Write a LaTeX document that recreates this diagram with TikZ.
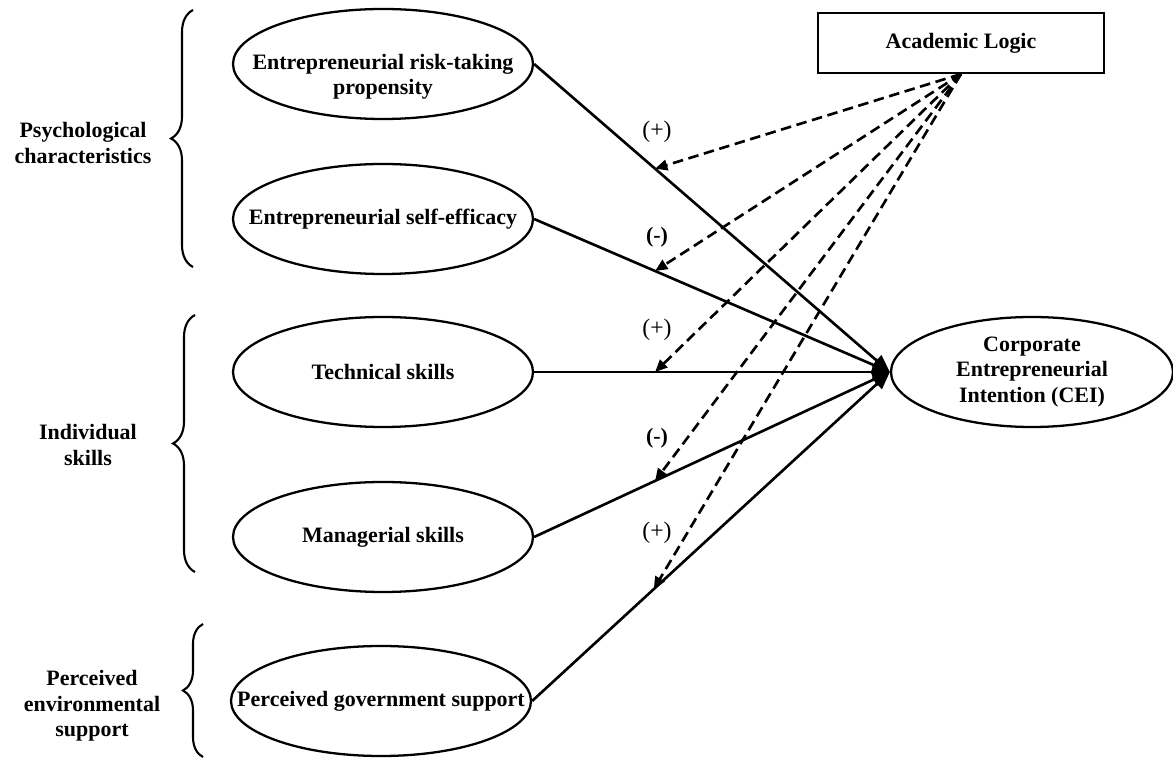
\documentclass[tikz,border=0pt]{standalone}
\usepackage{fontspec}
\setmainfont{Liberation Serif}
\usetikzlibrary{arrows.meta,shapes.geometric,decorations.pathreplacing}
\begin{document}
\begin{tikzpicture}[
  font=\fontsize{12.5}{14.5}\selectfont\bfseries,
  oval/.style={ellipse, draw, line width=1.3pt, minimum width=6cm, minimum height=2.2cm, inner xsep=-25pt, inner ysep=0pt, align=center},
  causal/.style={line width=1.5pt, -{Triangle[length=10pt,width=8pt]}},
  moder/.style={line width=1.5pt, dash pattern=on 6pt off 3.2pt, -{Triangle[length=7pt,width=6pt]}},
  grp/.style={line width=1.2pt, decorate, decoration={brace, amplitude=0.44cm}},
  plus/.style={font=\fontsize{13.5}{15}\selectfont\mdseries},
]
\useasboundingbox (0,0) rectangle (23.46,15.18);
% constructs
\node[oval] (risk) at (7.66,13.90) {\raisebox{-0.36cm}[0pt][0pt]{\begin{tabular}{@{}c@{}}Entrepreneurial risk-taking\\propensity\end{tabular}}};
\node[oval] (efficacy) at (7.66,10.80) {Entrepreneurial self-efficacy};
\node[oval] (tech) at (7.66,7.74) {Technical skills};
\node[oval] (manag) at (7.66,4.44) {Managerial skills};
\node[oval] (gov) at (7.62,1.16) {Perceived government support};
\node[oval, minimum width=5.64cm] (cei) at (20.64,7.74) {Corporate\\Entrepreneurial\\Intention (CEI)};
\node[draw, line width=1.2pt, minimum width=5.72cm, minimum height=1.2cm] (acad) at (19.22,14.32) {Academic Logic};
% groups
\node[align=center] (psych) at (1.66,12.32) {Psychological\\characteristics};
\node[align=center] (indiv) at (1.76,6.28) {Individual\\skills};
\node[align=center] (envir) at (1.84,1.06) {Perceived\\environmental\\support};
\draw[grp] (3.86,9.84) -- (3.86,14.98);
\draw[grp] (3.90,3.74) -- (3.90,8.88);
\draw[grp, decoration={amplitude=0.40cm}] (4.06,0.04) -- (4.06,2.70);
% paths
\draw[causal] (risk.east) -- coordinate[pos=0.34] (m1) (cei.west);
\draw[causal] (efficacy.east) -- coordinate[pos=0.34] (m2) (cei.west);
\draw[causal] (tech.east) -- coordinate[pos=0.34] (m3) (cei.west);
\draw[causal] (manag.east) -- coordinate[pos=0.34] (m4) (cei.west);
\draw[causal] (gov.east) -- coordinate[pos=0.34] (m5) (cei.west);
\node[plus] (sign1) at (13.14,12.54) {(+)};
\node (sign2) at (13.14,10.44) {(-)};
\node[plus] (sign3) at (13.14,8.58) {(+)};
\node (sign4) at (13.14,6.42) {(-)};
\node[plus] (sign5) at (13.14,4.52) {(+)};
% moderation
\draw[moder] (acad.south) -- (m1);
\draw[moder] (acad.south) -- (m2);
\draw[moder] (acad.south) -- (m3);
\draw[moder] (acad.south) -- (m4);
\draw[moder] (acad.south) -- (m5);
\end{tikzpicture}
\end{document}
